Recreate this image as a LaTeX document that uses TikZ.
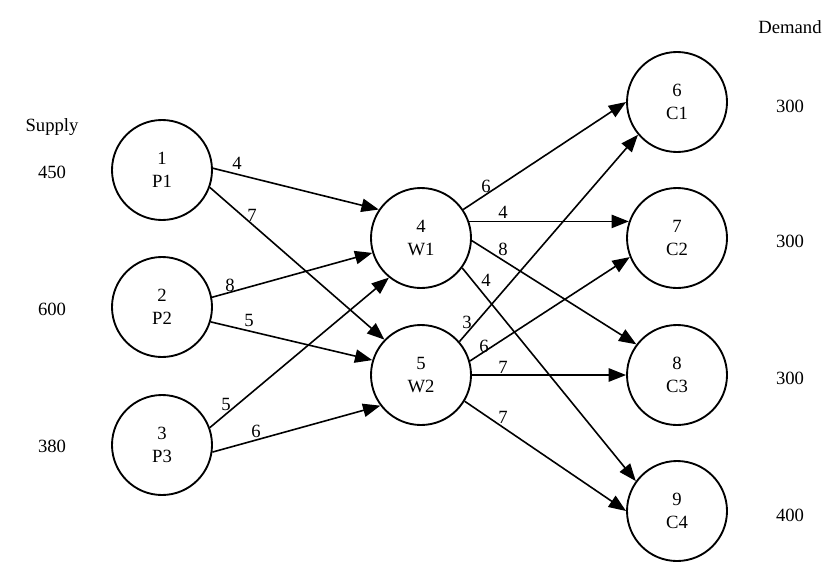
\documentclass[tikz,border=0pt]{standalone}
\usepackage{fontspec}
\setmainfont{Liberation Serif}
\usetikzlibrary{arrows.meta}
\begin{document}
\begin{tikzpicture}[x=0.75pt,y=-0.75pt,
  every node/.style={font=\fontsize{14}{17.25}\selectfont},
  nd/.style={circle,draw,line width=1.4pt,minimum size=75pt,inner sep=0pt,align=center},
  arr/.style={line width=1.2pt,-{Triangle[length=13pt,width=10pt]}},
  lbl/.style={inner sep=0pt}]
\useasboundingbox (0,0) rectangle (830,564);
\node[nd] (P1) at (162,170) {1\\P1};
\node[nd] (P2) at (162,307) {2\\P2};
\node[nd] (P3) at (162,445) {3\\P3};
\node[nd] (W1) at (421,238) {4\\W1};
\node[nd] (W2) at (421,375) {5\\W2};
\node[nd] (C1) at (677,102) {6\\C1};
\node[nd] (C2) at (677,238) {7\\C2};
\node[nd] (C3) at (677,375) {8\\C3};
\node[nd] (C4) at (677,511) {9\\C4};
% supply / demand
\node[lbl] (sup) at (52,127) {Supply};
\node[lbl] (s1) at (52,172) {450};
\node[lbl] (s2) at (52,309) {600};
\node[lbl] (s3) at (52,446) {380};
\node[lbl] (dem) at (790,27) {Demand};
\node[lbl] (d1) at (790,106) {300};
\node[lbl] (d2) at (790,241) {300};
\node[lbl] (d3) at (790,378) {300};
\node[lbl] (d4) at (790,515) {400};
% edges
\draw[arr] (P1.2) -- (W1.146);
\draw[arr] (P1.-20) -- (W2.136);
\draw[arr] (P2.11) -- (W1.-163);
\draw[arr] (P2.-17) -- (W2.163);
\draw[arr] (P3.20) -- (W1.-129);
\draw[arr] (P3.-8) -- (W2.-143);
\draw[arr] (W1.34) -- (C1.180);
\draw[arr] (W1.19) -- (C2.161);
\draw[arr] (W1.-3) -- (C3.143);
\draw[arr] (W1.-36) -- (C4.144);
\draw[arr] (W2.41) -- (C1.-140);
\draw[arr] (W2.16) -- (C2.-158);
\draw[arr] (W2.0) -- (C3.180);
\draw[arr] (W2.-31) -- (C4.180);
% edge labels
\node[lbl] (e1) at (237,163) {4};
\node[lbl] (e2) at (252,215) {7};
\node[lbl] (e3) at (230,285) {8};
\node[lbl] (e4) at (249,320) {5};
\node[lbl] (e5) at (226,404) {5};
\node[lbl] (e6) at (256,431) {6};
\node[lbl] (e7) at (486,186) {6};
\node[lbl] (e8) at (503,212) {4};
\node[lbl] (e9) at (503,249) {8};
\node[lbl] (e10) at (486,280) {4};
\node[lbl] (e11) at (467,322) {3};
\node[lbl] (e12) at (484,346) {6};
\node[lbl] (e13) at (503,367) {7};
\node[lbl] (e14) at (503,417) {7};
\end{tikzpicture}
\end{document}
